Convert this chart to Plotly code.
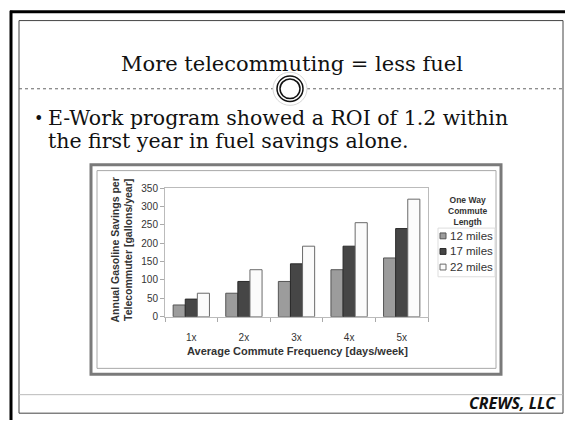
import plotly.graph_objects as go

# ---- data ----
categories = ["1x", "2x", "3x", "4x", "5x"]
series_names = ["12 miles", "17 miles", "22 miles"]
savings_12mi = [32, 64, 96, 128, 160]
savings_17mi = [48, 96, 144, 192, 240]
savings_22mi = [64, 128, 192, 256, 320]
y_ticks = [0, 50, 100, 150, 200, 250, 300, 350]

title_text = "More telecommuting = less fuel"
bullet_lines = ["E-Work program showed a ROI of 1.2 within",
                "the first year in fuel savings alone."]
footer_text = "CREWS, LLC"
legend_title = "One Way<br>Commute<br>Length"
x_title = "Average Commute Frequency [days/week]"
y_title = "Annual Gasoline Savings per<br>Telecommuter [gallons/year]"

W, H = 565, 426


def X(px):
    return px / W


def Y(py):
    return 1 - py / H


SANS = "Liberation Sans, Arial, sans-serif"
SERIF = "DejaVu Serif, serif"

fills = ["#9c9c9c", "#464646", "#fbfbfb"]
edges = ["#555555", "#2a2a2a", "#6a6a6a"]
values = [savings_12mi, savings_17mi, savings_22mi]

fig = go.Figure()
for name, vals, fc, ec in zip(series_names, values, fills, edges):
    fig.add_trace(go.Bar(x=categories, y=vals, name=name, showlegend=False,
                         marker=dict(color=fc, line=dict(color=ec, width=1))))

shapes = []
# slide frame: thick black top/left + thin inner box
shapes.append(dict(type="line", xref="paper", yref="paper", x0=X(10), x1=X(565), y0=Y(7), y1=Y(7),
                   line=dict(color="#000", width=3)))
shapes.append(dict(type="line", xref="paper", yref="paper", x0=X(11), x1=X(11), y0=Y(6), y1=Y(426),
                   line=dict(color="#000", width=3)))
shapes.append(dict(type="rect", xref="paper", yref="paper", x0=X(19), x1=X(563), y0=Y(16), y1=Y(419),
                   line=dict(color="#444", width=1)))
# dotted separator under title
shapes.append(dict(type="line", xref="paper", yref="paper", x0=X(19), x1=X(563), y0=Y(86), y1=Y(86),
                   line=dict(color="#666", width=1, dash="dot")))
# circle ornament
cx, cy = 290, 86
for r, col, w in [(17, "#d8d8d8", 1), (13, "#111", 1.5), (10, "#111", 1.5)]:
    shapes.append(dict(type="circle", xref="paper", yref="paper", x0=X(cx - r), x1=X(cx + r),
                       y0=Y(cy + r), y1=Y(cy - r), line=dict(color=col, width=w), fillcolor="white"))
# footer line
shapes.append(dict(type="line", xref="paper", yref="paper", x0=X(19), x1=X(563), y0=Y(400), y1=Y(400),
                   line=dict(color="#bbbbbb", width=1)))
# chart frame (double border)
shapes.append(dict(type="rect", xref="paper", yref="paper", x0=X(91), x1=X(501), y0=Y(164), y1=Y(379),
                   line=dict(color="#7a7a7a", width=3), fillcolor="white", layer="below"))
shapes.append(dict(type="rect", xref="paper", yref="paper", x0=X(97), x1=X(496), y0=Y(170), y1=Y(373),
                   line=dict(color="#a8a8a8", width=1), layer="below"))

annotations = [
    dict(text=title_text, x=X(292), y=Y(61), xref="paper", yref="paper", showarrow=False,
         xanchor="center", yanchor="middle", font=dict(family=SERIF, size=21, color="#111")),
    dict(text="•", x=X(32), y=Y(116), xref="paper", yref="paper", showarrow=False,
         xanchor="left", yanchor="middle", font=dict(family=SERIF, size=16, color="#111")),
    dict(text=bullet_lines[0], x=X(46), y=Y(116), xref="paper", yref="paper", showarrow=False,
         xanchor="left", yanchor="middle", font=dict(family=SERIF, size=20.5, color="#111")),
    dict(text=bullet_lines[1], x=X(46), y=Y(140), xref="paper", yref="paper", showarrow=False,
         xanchor="left", yanchor="middle", font=dict(family=SERIF, size=20.5, color="#111")),
    dict(text="<b><i>" + footer_text + "</i></b>", x=X(558), y=Y(409), xref="paper", yref="paper",
         showarrow=False, xanchor="right", yanchor="middle",
         font=dict(family="Open Sans, sans-serif", size=16, color="#111")),
    # axis titles
    dict(text="<b>" + y_title + "</b>", x=X(122), y=Y(252),
         xref="paper", yref="paper", showarrow=False, textangle=-90, xanchor="center", yanchor="middle",
         font=dict(family=SANS, size=10.5, color="#333")),
    dict(text="<b>" + x_title + "</b>", x=X(297), y=Y(355), xref="paper", yref="paper",
         showarrow=False, xanchor="center", yanchor="middle", font=dict(family=SANS, size=11, color="#333")),
    # legend title
    dict(text="<b>" + legend_title + "</b>", x=X(467), y=Y(211), xref="paper", yref="paper",
         showarrow=False, xanchor="center", yanchor="middle", font=dict(family=SANS, size=8.5, color="#333")),
]

# manual legend built from the series lists
shapes.append(dict(type="rect", xref="paper", yref="paper", x0=X(438), x1=X(495), y0=Y(229), y1=Y(279),
                   line=dict(color="#dddddd", width=1), fillcolor="white"))
for i, (name, fc, ec) in enumerate(zip(series_names, fills, edges)):
    yc = 237 + i * 16
    shapes.append(dict(type="rect", xref="paper", yref="paper", x0=X(440), x1=X(446), y0=Y(yc + 3),
                       y1=Y(yc - 3), line=dict(color=ec, width=1), fillcolor=fc))
    annotations.append(dict(text=name, x=X(448), y=Y(yc), xref="paper", yref="paper", showarrow=False,
                            xanchor="left", yanchor="middle",
                            font=dict(family=SANS, size=11.5, color="#333")))

fig.update_layout(
    width=W, height=H,
    margin=dict(l=0, r=0, t=0, b=0),
    paper_bgcolor="white", plot_bgcolor="white",
    barmode="group", bargap=0.31, bargroupgap=0,
    showlegend=False,
    xaxis=dict(domain=[X(165), X(428)], showline=True, linecolor="#bbbbbb", linewidth=1, mirror=True,
               ticks="outside", ticklen=4, tickcolor="#aaaaaa", tickson="boundaries", showgrid=False,
               ticklabelstandoff=11, tickfont=dict(family=SANS, size=10, color="#333")),
    yaxis=dict(domain=[Y(320), Y(188)], range=[0, 350], tickvals=y_ticks, showline=True, linecolor="#bbbbbb",
               linewidth=1, mirror=True, ticks="outside", ticklen=4, tickcolor="#aaaaaa", showgrid=False,
               zeroline=False, tickfont=dict(family=SANS, size=10, color="#333")),
    shapes=shapes, annotations=annotations,
)

fig.write_html("out.html", config={"displayModeBar": False},
               post_script="document.body.style.margin='0';")
